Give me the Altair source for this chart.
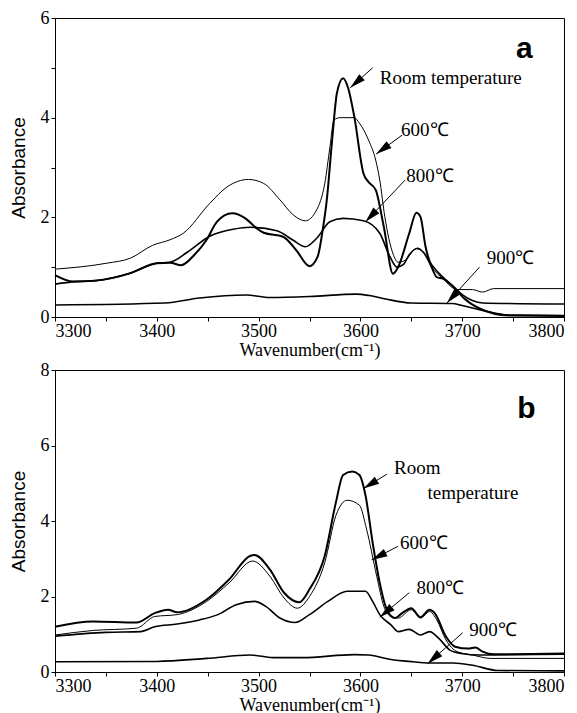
import math
import altair as alt
import pandas as pd

# ---------------- Panel a data ----------------
a_rt_x = [3300, 3318, 3340, 3374, 3400, 3413, 3424, 3437, 3449, 3459, 3474, 3487, 3498, 3505, 3524,
          3537, 3550, 3558, 3563, 3567, 3572, 3577, 3583, 3588, 3594, 3603, 3608, 3615, 3623, 3632,
          3637, 3648, 3655, 3659, 3664, 3670, 3675, 3681, 3693, 3702, 3717, 3746, 3800]
a_rt_y = [0.84, 0.71, 0.73, 0.88, 1.08, 1.09, 1.04, 1.25, 1.55, 1.91, 2.08, 1.98, 1.78, 1.69, 1.61,
          1.34, 1.02, 1.21, 1.75, 2.35, 3.5, 4.5, 4.79, 4.59, 4.02, 2.88, 2.71, 2.55, 1.81, 0.87,
          1.0, 1.68, 2.09, 2.01, 1.41, 1.0, 0.8, 0.77, 0.57, 0.37, 0.17, 0.03, 0.02]

a_600_x = [3300, 3351, 3374, 3396, 3413, 3426, 3452, 3469, 3490, 3505, 3521, 3534, 3546, 3557, 3565,
           3570, 3574, 3580, 3594, 3599, 3608, 3615, 3619, 3624, 3632, 3637, 3644, 3655, 3661, 3670,
           3681, 3695, 3710, 3720, 3731, 3800]
a_600_y = [0.96, 1.08, 1.18, 1.44, 1.55, 1.68, 2.28, 2.61, 2.76, 2.68, 2.35, 2.05, 1.93, 2.15, 2.68,
           3.4, 3.95, 4.0, 4.0, 3.89, 3.55, 3.15, 2.75, 2.01, 1.27, 1.1, 1.14, 1.37, 1.31, 1.0,
           0.77, 0.55, 0.55, 0.5, 0.57, 0.57]

a_800_x = [3300, 3320, 3340, 3374, 3400, 3413, 3430, 3452, 3475, 3492, 3518, 3534, 3546, 3557, 3570,
           3583, 3603, 3619, 3629, 3636, 3642, 3648, 3656, 3662, 3670, 3680, 3692, 3700, 3710, 3720, 3800]
a_800_y = [0.66, 0.71, 0.73, 0.88, 1.08, 1.1, 1.3, 1.62, 1.76, 1.8, 1.73, 1.54, 1.41, 1.58, 1.91,
           1.98, 1.93, 1.68, 1.21, 1.0, 1.05, 1.25, 1.38, 1.3, 1.05, 0.82, 0.6, 0.45, 0.33, 0.28, 0.26]

a_900_x = [3300, 3408, 3442, 3488, 3511, 3550, 3596, 3609, 3625, 3650, 3690, 3700, 3720, 3745, 3800]
a_900_y = [0.24, 0.28, 0.38, 0.44, 0.39, 0.41, 0.46, 0.43, 0.36, 0.28, 0.27, 0.23, 0.13, 0.04, 0.03]

# ---------------- Panel b data ----------------
b_rt_x = [3300, 3337, 3380, 3398, 3411, 3420, 3449, 3471, 3492, 3496, 3511, 3525, 3540, 3550, 3565,
          3576, 3583, 3592, 3599, 3605, 3612, 3619, 3626, 3634, 3641, 3650, 3659, 3668, 3673, 3684,
          3693, 3706, 3713, 3720, 3731, 3800]
b_rt_y = [1.2, 1.34, 1.31, 1.56, 1.65, 1.58, 1.92, 2.45, 3.08, 3.1, 2.72, 2.1, 1.85, 2.19, 3.08,
          4.5, 5.22, 5.31, 5.22, 4.68, 3.43, 2.36, 1.65, 1.43, 1.56, 1.69, 1.45, 1.65, 1.56, 0.94,
          0.67, 0.62, 0.65, 0.54, 0.47, 0.49]

b_600_x = [3300, 3337, 3380, 3398, 3420, 3449, 3471, 3494, 3511, 3525, 3538, 3550, 3565, 3576, 3587,
           3599, 3606, 3616, 3623, 3630, 3637, 3650, 3659, 3668, 3675, 3684, 3695, 3710, 3728, 3800]
b_600_y = [0.98, 1.1, 1.16, 1.47, 1.52, 1.87, 2.36, 2.94, 2.54, 1.96, 1.69, 2.0, 2.9, 4.15, 4.55,
           4.42, 3.79, 2.54, 1.74, 1.47, 1.43, 1.65, 1.43, 1.6, 1.38, 0.85, 0.54, 0.45, 0.36, 0.36]

b_800_x = [3300, 3350, 3384, 3398, 3420, 3442, 3460, 3478, 3496, 3507, 3521, 3536, 3550, 3568, 3587,
           3605, 3612, 3619, 3630, 3637, 3648, 3659, 3668, 3677, 3688, 3699, 3717, 3800]
b_800_y = [0.95, 1.05, 1.07, 1.2, 1.27, 1.38, 1.52, 1.78, 1.87, 1.74, 1.43, 1.31, 1.52, 1.87, 2.14,
           2.14, 1.87, 1.52, 1.25, 1.07, 1.13, 0.98, 1.07, 0.89, 0.58, 0.49, 0.45, 0.47]

b_900_x = [3300, 3400, 3449, 3492, 3514, 3543, 3594, 3608, 3630, 3652, 3666, 3691, 3710, 3735, 3800]
b_900_y = [0.27, 0.28, 0.36, 0.45, 0.38, 0.38, 0.46, 0.45, 0.33, 0.27, 0.24, 0.24, 0.18, 0.04, 0.03]

series_names = ["Room temperature", "600℃", "800℃", "900℃"]
stroke_widths = [2.0, 1.0, 1.6, 1.6]

# ---------------- Annotations ----------------
a_text = ["Room temperature", "600℃", "800℃", "900℃"]
a_text_x = [3619, 3640, 3645, 3724]
a_text_y = [4.8, 3.75, 2.82, 1.18]
a_arrow_x0 = [3612, 3641, 3644, 3717]
a_arrow_y0 = [5.0, 3.65, 2.75, 1.0]
a_arrow_x1 = [3590, 3615.5, 3605, 3685]
a_arrow_y1 = [4.6, 3.27, 1.91, 0.28]

b_text = ["Room", "temperature", "600℃", "800℃", "900℃"]
b_text_x = [3633, 3666, 3639, 3655, 3707]
b_text_y = [5.4, 4.75, 3.43, 2.23, 1.12]
b_arrow_x0 = [3626, 3637, 3648, 3700.5]
b_arrow_y0 = [5.24, 3.33, 2.1, 1.04]
b_arrow_x1 = [3603, 3611, 3619, 3666]
b_arrow_y1 = [4.86, 2.97, 1.45, 0.22]

W = 509
H_A = 299
H_B = 302
XMIN, XMAX = 3300, 3800

SERIF = "Liberation Serif"
SANS = "Liberation Sans"
FS = 18


def curves_df(curves):
    rows = []
    for name, w, xs, ys in curves:
        for x, y in zip(xs, ys):
            rows.append({"series": name, "w": w, "x": x, "y": y})
    return pd.DataFrame(rows)


def arrows_df(x0, y0, x1, y1, ymax, H):
    xs = W / (XMAX - XMIN)
    ys = H / ymax
    rows = []
    for a, b, c, d in zip(x0, y0, x1, y1):
        ang = math.degrees(math.atan2((c - a) * xs, (d - b) * ys)) % 360
        rows.append({"x0": a, "y0": b, "x1": c, "y1": d, "ang": ang})
    return pd.DataFrame(rows)


def panel(curves, ymax, H, texts, tx, ty, arrows, letter, lx, ly):
    xsc = alt.Scale(domain=[XMIN, XMAX], nice=False, zero=False)
    ysc = alt.Scale(domain=[0, ymax], nice=False)
    xaxis = alt.Axis(values=list(range(XMIN, XMAX + 1, 50)),
                     labelExpr="datum.value % 100 == 0 ? datum.label : ''",
                     format="d", title="Wavenumber(cm⁻¹)", grid=False,
                     labelFont=SERIF, labelFontSize=FS, tickSize=4, labelPadding=1,
                     titleFont=SERIF, titleFontSize=FS, titleFontWeight="normal",
                     titlePadding=1)
    yaxis = alt.Axis(values=list(range(0, ymax + 1)),
                     labelExpr="datum.value % 2 == 0 ? datum.label : ''",
                     title="Absorbance", grid=False,
                     labelFont=SERIF, labelFontSize=FS, tickSize=4, labelPadding=2,
                     titleFont=SANS, titleFontSize=19, titleFontWeight="normal",
                     titlePadding=12)
    lines = alt.Chart(curves_df(curves)).mark_line(
        interpolate="monotone", color="black"
    ).encode(
        x=alt.X("x:Q", scale=xsc, axis=xaxis),
        y=alt.Y("y:Q", scale=ysc, axis=yaxis),
        detail="series:N",
        strokeWidth=alt.StrokeWidth("w:Q", scale=None),
    )
    adf = arrows
    rules = alt.Chart(adf).mark_rule(color="black", strokeWidth=1).encode(
        x=alt.X("x0:Q", scale=xsc), y=alt.Y("y0:Q", scale=ysc),
        x2="x1:Q", y2="y1:Q",
    )
    heads = alt.Chart(adf).mark_point(
        shape="M0,0L0.6,2.3L-0.6,2.3Z", filled=True, color="black",
        size=190, opacity=1, strokeWidth=0
    ).encode(
        x=alt.X("x1:Q", scale=xsc), y=alt.Y("y1:Q", scale=ysc),
        angle=alt.Angle("ang:Q", scale=None),
    )
    tdf = pd.DataFrame({"t": texts, "x": tx, "y": ty})
    labels = alt.Chart(tdf).mark_text(
        align="left", baseline="middle", font=SERIF, fontSize=19, color="black"
    ).encode(x=alt.X("x:Q", scale=xsc), y=alt.Y("y:Q", scale=ysc), text="t:N")
    ldf = pd.DataFrame({"t": [letter], "x": [lx], "y": [ly]})
    let = alt.Chart(ldf).mark_text(
        align="center", baseline="middle", font=SANS, fontSize=30,
        fontWeight="bold", color="black"
    ).encode(x=alt.X("x:Q", scale=xsc), y=alt.Y("y:Q", scale=ysc), text="t:N")
    return alt.layer(lines, rules, heads, labels, let).properties(width=W, height=H)


curves_a = [
    (series_names[0], stroke_widths[0], a_rt_x, a_rt_y),
    (series_names[1], stroke_widths[1], a_600_x, a_600_y),
    (series_names[2], stroke_widths[2], a_800_x, a_800_y),
    (series_names[3], stroke_widths[3], a_900_x, a_900_y),
]
curves_b = [
    (series_names[0], stroke_widths[0], b_rt_x, b_rt_y),
    (series_names[1], stroke_widths[1], b_600_x, b_600_y),
    (series_names[2], stroke_widths[2], b_800_x, b_800_y),
    (series_names[3], stroke_widths[3], b_900_x, b_900_y),
]

pa = panel(curves_a, 6, H_A, a_text, a_text_x, a_text_y,
           arrows_df(a_arrow_x0, a_arrow_y0, a_arrow_x1, a_arrow_y1, 6, H_A),
           "a", 3761, 5.38)
pb = panel(curves_b, 8, H_B, b_text, b_text_x, b_text_y,
           arrows_df(b_arrow_x0, b_arrow_y0, b_arrow_x1, b_arrow_y1, 8, H_B),
           "b", 3763, 6.96)

chart = alt.vconcat(pa, pb, spacing=0).properties(padding=0).configure_view(
    stroke="black", strokeWidth=1
).configure_axis(
    domainColor="black", tickColor="black", labelColor="black", titleColor="black",
)

chart.save("out.html", embed_options={"renderer": "svg", "actions": False})
